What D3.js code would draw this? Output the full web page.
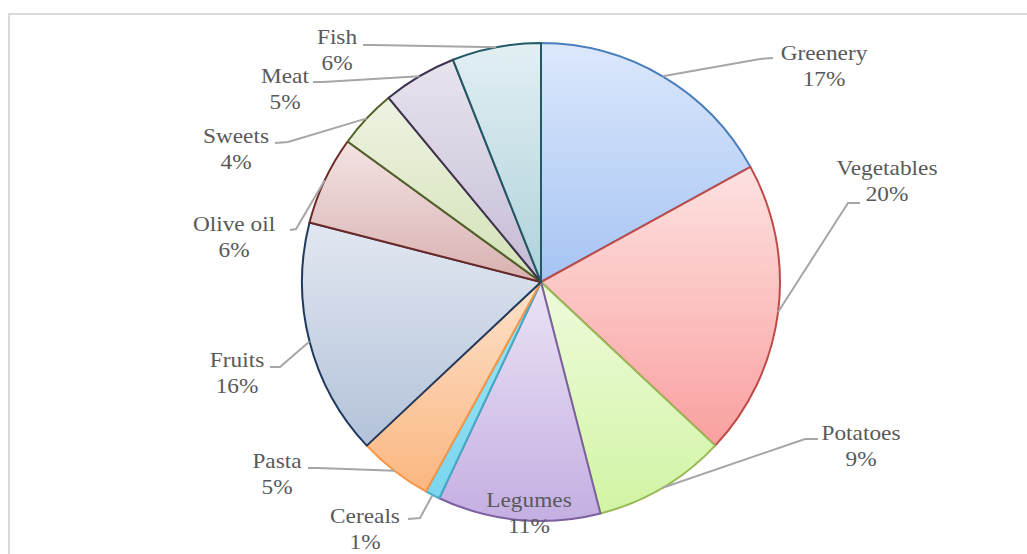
<!DOCTYPE html>
<html>
<head>
<meta charset="utf-8">
<script src="https://cdn.jsdelivr.net/npm/d3@7"></script>
<style>
  html, body { margin: 0; padding: 0; background: #ffffff; }
  svg { display: block; }
</style>
</head>
<body>
<script>
// ---- data ----
const categories = ["Greenery", "Vegetables", "Potatoes", "Legumes", "Cereals", "Pasta", "Fruits", "Olive oil", "Sweets", "Meat", "Fish"];
const values = [17, 20, 9, 11, 1, 5, 16, 6, 4, 5, 6];

// ---- styles ----
const strokeColors = ["#4a7ebb", "#be4b48", "#98b954", "#7d60a0", "#46aac5", "#f79646", "#1f3a5f", "#6b2826", "#4f6228", "#3f3151", "#215967"];
const fillTop =      ["#dce8fc", "#fde2e1", "#eefbdc", "#ebe3f5", "#a3e5f4", "#fde2cb", "#e2e8f1", "#f3e3e3", "#eef3e2", "#e8e4ee", "#e2eff3"];
const fillBottom =   ["#a6c4f3", "#f9a09f", "#d2f4a4", "#c4afe2", "#7ad6ee", "#fbb680", "#b3c2da", "#d8b1b0", "#d3e1b6", "#c5bbd5", "#afd2db"];

// ---- label layout: [textCenterX, firstBaselineY, elbowX, elbowY, endX, endY] ----
const labelLayout = [
  [824, 60, 760, 59, 773, 58],
  [887, 175, 848, 203, 860, 203],
  [861, 440, 805, 439, 818, 439],
  [529, 507, null, null, null, null],
  [365, 523, 420, 518, 408, 519],
  [277, 468, 318, 468, 308, 468],
  [237, 367, 280, 367, 270, 367],
  [234, 231, 296, 229, 290, 230],
  [236, 143, 288, 142, 275, 143],
  [285, 83, 323, 82, 313, 82],
  [337, 44, 373, 45, 363, 45]
];

const W = 1027, H = 554;
const cx = 541, cy = 282, R = 239;

const svg = d3.select("body").append("svg")
  .attr("width", W).attr("height", H);

svg.append("rect").attr("x", 0).attr("y", 0).attr("width", W).attr("height", H).attr("fill", "#ffffff");

// frame
svg.append("rect")
  .attr("x", 9).attr("y", 14).attr("width", W + 20).attr("height", H + 20)
  .attr("fill", "#ffffff").attr("stroke", "#d9d9d9").attr("stroke-width", 2);

const defs = svg.append("defs");
categories.forEach((c, i) => {
  const g = defs.append("linearGradient")
    .attr("id", "grad" + i).attr("x1", 0).attr("y1", 0).attr("x2", 0).attr("y2", 1);
  g.append("stop").attr("offset", "0%").attr("stop-color", fillTop[i]);
  g.append("stop").attr("offset", "100%").attr("stop-color", fillBottom[i]);
});

const pie = d3.pie().sort(null).value(d => d).startAngle(0).endAngle(2 * Math.PI);
const arcs = pie(values);
const arc = d3.arc().innerRadius(0).outerRadius(R);

const g = svg.append("g").attr("transform", `translate(${cx},${cy})`);

g.selectAll("path.slice").data(arcs).enter().append("path")
  .attr("class", "slice")
  .attr("d", arc)
  .attr("fill", (d, i) => `url(#grad${i})`)
  .attr("stroke", (d, i) => strokeColors[i])
  .attr("stroke-width", 2)
  .attr("stroke-linejoin", "round");

// leader lines
const line = d3.line();
arcs.forEach((d, i) => {
  const L = labelLayout[i];
  if (L[2] === null) return;
  const a = (d.startAngle + d.endAngle) / 2;
  const p0 = [cx + R * Math.sin(a), cy - R * Math.cos(a)];
  svg.append("path")
    .attr("d", line([p0, [L[2], L[3]], [L[4], L[5]]]))
    .attr("fill", "none")
    .attr("stroke", "#a6a6a6")
    .attr("stroke-width", 2);
});

// labels
arcs.forEach((d, i) => {
  const L = labelLayout[i];
  const t = svg.append("text")
    .attr("text-anchor", "middle")
    .attr("font-family", "'Liberation Serif', 'Times New Roman', serif")
    .attr("font-size", 22)
    .attr("fill", "#595959")
    .attr("transform", `translate(${L[0]},${L[1]}) scale(1.06,1)`);
  t.append("tspan").attr("x", 0).attr("y", 0).text(categories[i]);
  t.append("tspan").attr("x", 0).attr("y", 26).text(values[i] + "%");
});
</script>
</body>
</html>
